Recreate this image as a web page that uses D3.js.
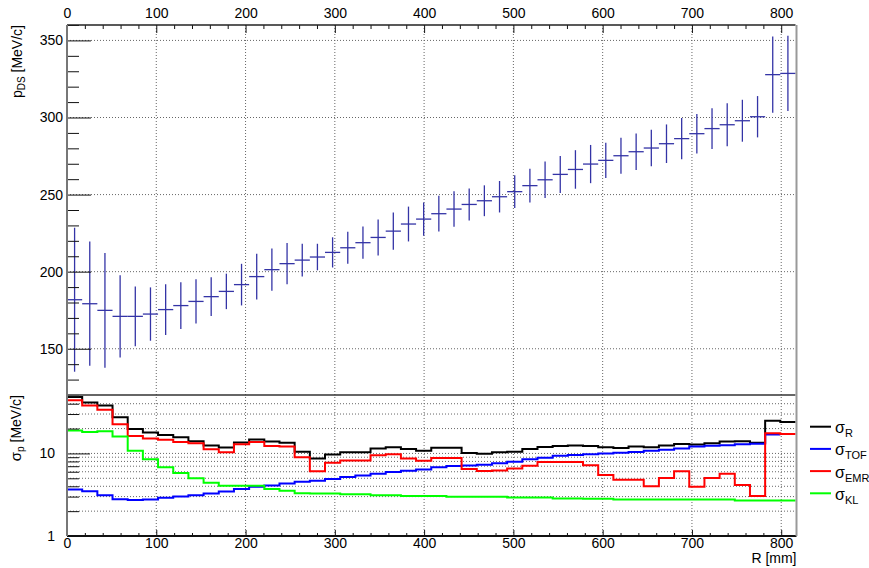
<!DOCTYPE html>
<meta charset="utf-8">
<script src="https://d3js.org/d3.v7.min.js"></script>
<style>
  body { margin: 0; background: #fff; }
  text { font-family: "Liberation Sans", Arial, Helvetica, sans-serif; fill: #000; }
</style>
<svg width="869" height="568"></svg>
<script>
// binning of R [mm]
var binWidth = 17;
var rMax = 816;

// top pad: mean p_DS per R bin, and its error
var pMean = [181.8, 179.2, 174.9, 171.0, 171.0, 172.5, 175.4, 178.0, 180.7, 183.8,
             187.2, 191.6, 196.8, 201.3, 205.2, 207.5, 209.5, 212.5, 215.5, 218.8,
             222.2, 226.3, 230.9, 234.1, 237.6, 240.6, 243.6, 246.0, 248.6, 251.9,
             255.8, 259.6, 263.1, 266.3, 269.8, 272.2, 275.2, 277.8, 280.2, 283.0,
             286.3, 289.5, 292.8, 295.3, 297.9, 300.5, 327.8, 328.6];
var pErr = [46.7, 40.3, 37.2, 26.7, 19.3, 17.3, 16.5, 15.2, 14.4, 12.5,
            11.5, 13.5, 14.8, 13.7, 13.4, 10.6, 8.6, 9.8, 10.4, 10.5,
            11.7, 12.1, 11.3, 10.8, 11.6, 11.5, 10.4, 10.0, 10.2, 10.6,
            11.0, 11.8, 12.0, 12.5, 12.4, 11.5, 11.7, 11.8, 11.9, 12.5,
            13.4, 12.8, 13.2, 13.9, 13.6, 13.4, 24.7, 24.4];

// bottom pad: resolutions
var sigmaR = [48.1, 41.3, 38.0, 27.5, 19.8, 17.9, 16.7, 15.7, 14.0, 12.5,
              11.8, 13.6, 14.7, 13.9, 13.5, 10.5, 8.7, 9.7, 10.3, 10.3,
              11.5, 11.9, 11.3, 10.8, 11.7, 11.7, 10.1, 9.9, 10.3, 10.5,
              11.3, 12.0, 12.3, 12.5, 12.3, 11.9, 11.6, 12.1, 11.9, 12.5,
              13.0, 12.8, 13.3, 13.9, 14.0, 13.5, 24.8, 24.1];
var sigmaTOF = [3.66, 3.49, 3.12, 2.79, 2.72, 2.77, 2.90, 3.01, 3.12, 3.27,
                3.46, 3.72, 3.94, 4.10, 4.33, 4.53, 4.66, 4.89, 5.17, 5.42,
                5.67, 5.94, 6.17, 6.41, 6.78, 7.03, 7.15, 7.30, 7.59, 7.93,
                8.48, 8.87, 9.38, 9.57, 9.74, 10.0, 10.2, 10.4, 10.8, 11.1,
                11.5, 12.1, 12.4, 12.6, 12.9, 13.1, 16.9];
var sigmaEMR = [44.2, 38.0, 33.7, 22.6, 16.3, 15.2, 14.6, 13.8, 13.3, 11.2,
                10.3, 12.9, 13.8, 12.3, 12.1, 9.0, 6.1, 7.7, 8.2, 8.2,
                9.5, 9.8, 8.7, 8.15, 8.8, 8.8, 6.46, 6.11, 6.23, 6.59,
                7.09, 7.86, 7.86, 7.86, 7.2, 5.47, 4.8, 4.8, 4.0, 5.05,
                6.1, 3.95, 5.05, 5.67, 4.15, 3.05, 17.6, 17.2];
var sigmaKL = [18.9, 18.2, 18.5, 16.0, 10.8, 8.5, 6.8, 5.8, 5.0, 4.4,
               4.05, 4.05, 4.05, 3.72, 3.52, 3.30, 3.28, 3.28, 3.21, 3.21,
               3.12, 3.12, 3.06, 3.06, 3.06, 2.98, 2.98, 2.98, 2.98, 2.93,
               2.93, 2.93, 2.85, 2.85, 2.83, 2.83, 2.77, 2.77, 2.77, 2.77,
               2.77, 2.77, 2.77, 2.77, 2.70, 2.70, 2.70, 2.70];

var xTicks = [0, 100, 200, 300, 400, 500, 600, 700, 800];
var pTicks = [150, 200, 250, 300, 350];
var logTicks = [1, 10];
var logMinor = [2, 3, 4, 5, 6, 7, 8, 9, 20, 30, 40, 50];

var series = [
  {name: "R",   values: sigmaR,   color: "#000000"},
  {name: "TOF", values: sigmaTOF, color: "#0000ff"},
  {name: "EMR", values: sigmaEMR, color: "#ff0000"},
  {name: "KL",  values: sigmaKL,  color: "#00ff00"}
];

var svg = d3.select("svg");
var L = 67, R = 795.5;
var topY0 = 25, padSplit = 395, botY1 = 536;

var x = d3.scaleLinear().domain([0, rMax]).range([L, R]);
var yTop = d3.scaleLinear().domain([120, 360]).range([padSplit, topY0]);
var yBot = d3.scaleLog().domain([1, 51]).range([botY1, padSplit]);

var xMinor = d3.range(20, rMax, 20).filter(function(v) { return v % 100 != 0; });
var pMinor = d3.range(130, 361, 10).filter(function(v) { return v % 50 != 0; });

// grids
var grid = svg.append("g")
    .attr("stroke", "#666")
    .attr("stroke-width", 1)
    .attr("stroke-dasharray", "1,2");
grid.selectAll(".gx").data(xTicks.slice(1)).enter().append("line")
    .attr("x1", function(d) { return x(d); }).attr("x2", function(d) { return x(d); })
    .attr("y1", topY0).attr("y2", botY1);
grid.selectAll(".gy").data(pTicks).enter().append("line")
    .attr("x1", L).attr("x2", R)
    .attr("y1", function(d) { return yTop(d); }).attr("y2", function(d) { return yTop(d); });
grid.selectAll(".gl").data([2, 3, 4, 5, 6, 7, 8, 9, 10, 20, 30, 40]).enter().append("line")
    .attr("x1", L).attr("x2", R)
    .attr("y1", function(d) { return yBot(d); }).attr("y2", function(d) { return yBot(d); });

// top pad error bars
var bars = svg.append("g").attr("stroke", "#3434a6").attr("stroke-width", 1.3);
pMean.forEach(function(m, i) {
  var lo = i * binWidth, hi = lo + binWidth, c = lo + binWidth / 2;
  bars.append("line")
      .attr("x1", x(lo)).attr("x2", x(hi))
      .attr("y1", yTop(m)).attr("y2", yTop(m));
  bars.append("line")
      .attr("x1", x(c)).attr("x2", x(c))
      .attr("y1", yTop(m - pErr[i])).attr("y2", yTop(m + pErr[i]));
});

// bottom pad step histograms
var step = d3.line()
    .x(function(d) { return x(d[0]); })
    .y(function(d) { return yBot(d[1]); })
    .curve(d3.curveStepAfter);

series.forEach(function(s) {
  var pts = s.values.map(function(v, i) { return [i * binWidth, v]; });
  pts.push([s.values.length * binWidth, s.values[s.values.length - 1]]);
  svg.append("path")
      .datum(pts)
      .attr("fill", "none")
      .attr("stroke", s.color)
      .attr("stroke-width", 2)
      .attr("d", step);
});

// axes
function styleAxis(g) {
  g.select(".domain").remove();
  g.selectAll("line").attr("stroke", "#111");
  g.selectAll("text").attr("font-size", 14)
      .attr("font-family", "Liberation Sans, Arial, sans-serif");
}

svg.append("g").attr("transform", "translate(0," + topY0 + ")")
    .call(d3.axisTop(x).tickValues(xTicks).tickSize(-8).tickPadding(7).tickFormat(d3.format("d")))
    .call(styleAxis);
svg.append("g").attr("transform", "translate(0," + topY0 + ")")
    .call(d3.axisTop(x).tickValues(xMinor).tickSize(-4).tickFormat(""))
    .call(styleAxis);

svg.append("g").attr("transform", "translate(0," + botY1 + ")")
    .call(d3.axisBottom(x).tickValues(xTicks).tickSize(-6).tickPadding(2).tickFormat(d3.format("d")))
    .call(styleAxis);
svg.append("g").attr("transform", "translate(0," + botY1 + ")")
    .call(d3.axisBottom(x).tickValues(xMinor).tickSize(-3).tickFormat(""))
    .call(styleAxis);

svg.append("g").attr("transform", "translate(" + L + ",0)")
    .call(d3.axisLeft(yTop).tickValues(pTicks).tickSize(-24).tickPadding(4))
    .call(styleAxis);
svg.append("g").attr("transform", "translate(" + L + ",0)")
    .call(d3.axisLeft(yTop).tickValues(pMinor).tickSize(-12).tickFormat(""))
    .call(styleAxis);

svg.append("g").attr("transform", "translate(" + L + ",0)")
    .call(d3.axisLeft(yBot).tickValues(logTicks).tickSize(-23).tickPadding(12).tickFormat(d3.format("d")))
    .call(styleAxis);
svg.append("g").attr("transform", "translate(" + L + ",0)")
    .call(d3.axisLeft(yBot).tickValues(logMinor).tickSize(-12).tickFormat(""))
    .call(styleAxis);

// frames
var frame = svg.append("g").attr("fill", "none");
frame.append("line").attr("x1", L).attr("x2", R).attr("y1", topY0).attr("y2", topY0)
    .attr("stroke", "#222").attr("stroke-width", 1.5);
frame.append("line").attr("x1", L).attr("x2", R).attr("y1", padSplit).attr("y2", padSplit)
    .attr("stroke", "#333").attr("stroke-width", 1.5);
frame.append("line").attr("x1", L).attr("x2", R + 1).attr("y1", botY1).attr("y2", botY1)
    .attr("stroke", "#111").attr("stroke-width", 2);
frame.append("line").attr("x1", L).attr("x2", L).attr("y1", topY0).attr("y2", botY1)
    .attr("stroke", "#777").attr("stroke-width", 2);
frame.append("line").attr("x1", R + 1).attr("x2", R + 1).attr("y1", topY0).attr("y2", botY1)
    .attr("stroke", "#999").attr("stroke-width", 2);

// axis titles
var t1 = svg.append("text")
    .attr("transform", "translate(22," + topY0 + ") rotate(-90)")
    .attr("text-anchor", "end")
    .attr("font-size", 14);
t1.append("tspan").text("p");
t1.append("tspan").attr("font-size", 10).attr("dy", 3).text("DS");
t1.append("tspan").attr("dy", -3).text(" [MeV/c]");

var t2 = svg.append("text")
    .attr("transform", "translate(21," + padSplit + ") rotate(-90)")
    .attr("text-anchor", "end")
    .attr("font-size", 14);
t2.append("tspan").attr("font-size", 15).text("σ");
t2.append("tspan").attr("font-size", 10).attr("dy", 3).text("p");
t2.append("tspan").attr("dy", -3).text(" [MeV/c]");

svg.append("text")
    .attr("x", R + 1).attr("y", 563)
    .attr("text-anchor", "end")
    .attr("font-size", 14)
    .text("R [mm]");

// legend
var leg = svg.append("g");
series.forEach(function(s, i) {
  var ly = 426.7 + i * 22.2;
  leg.append("line")
      .attr("x1", 810).attr("x2", 831)
      .attr("y1", ly).attr("y2", ly)
      .attr("stroke", s.color).attr("stroke-width", 2);
  var t = leg.append("text").attr("x", 835).attr("y", ly + 6.5).attr("font-size", 16);
  t.append("tspan").text("σ");
  t.append("tspan").attr("font-size", 11).attr("dy", 4).text(s.name);
});
</script>
